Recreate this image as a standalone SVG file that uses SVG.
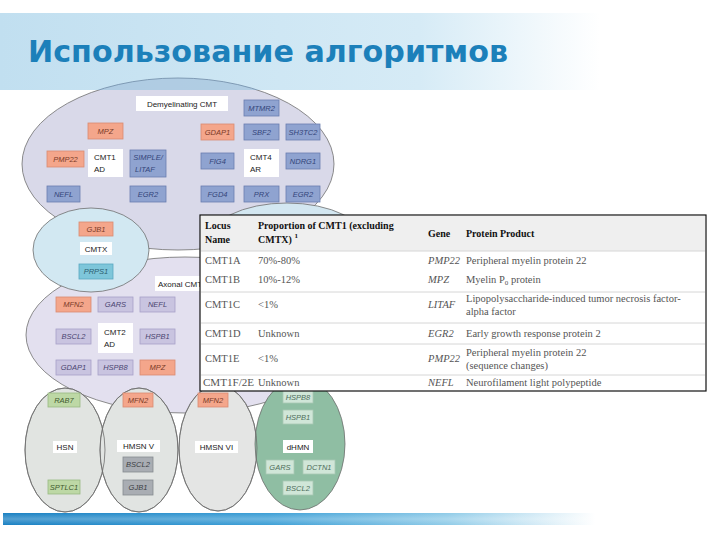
<svg xmlns="http://www.w3.org/2000/svg" width="720" height="540" viewBox="0 0 720 540">
<defs>
<linearGradient id="band" x1="0" y1="0" x2="600" y2="0" gradientUnits="userSpaceOnUse">
<stop offset="0" stop-color="#c1dff0"/>
<stop offset="0.7" stop-color="#d6ebf6"/>
<stop offset="1" stop-color="#ffffff"/>
</linearGradient>
<linearGradient id="bar" x1="0" y1="0" x2="595" y2="0" gradientUnits="userSpaceOnUse">
<stop offset="0" stop-color="#1a80c2"/>
<stop offset="0.45" stop-color="#3d9fd6"/>
<stop offset="0.75" stop-color="#8fcbe8"/>
<stop offset="1" stop-color="#ffffff"/>
</linearGradient>
<linearGradient id="barHi" x1="0" y1="0" x2="0" y2="1">
<stop offset="0" stop-color="#ffffff" stop-opacity="0"/>
<stop offset="0.5" stop-color="#ffffff" stop-opacity="0.25"/>
<stop offset="1" stop-color="#ffffff" stop-opacity="0"/>
</linearGradient>
<clipPath id="inBand"><rect x="0" y="0" width="720" height="90"/></clipPath>
<clipPath id="belowBand"><rect x="0" y="90" width="720" height="450"/></clipPath>
</defs>
<style>
.ell{stroke:#6f6f6f;stroke-width:0.8}
.b{stroke-width:0.8}
.blue{fill:#8fa3d0;stroke:#6a7db0}
.orange{fill:#f4a68b;stroke:#d98b70}
.white{fill:#ffffff;stroke:none}
.lav{fill:#c9c4e0;stroke:#a7a0c8}
.cyan{fill:#7ec6da;stroke:#5aa8c0}
.green{fill:#bdd8a5;stroke:#98b982}
.gray{fill:#a9adb3;stroke:#868a90}
.mint{fill:#d0e6d8;stroke:#a9c9b4}
.g{font-family:"Liberation Sans",Arial,sans-serif;font-size:7.5px;font-style:italic;text-anchor:middle}
.tb{fill:#34457a}
.to{fill:#7b3b28}
.tl{fill:#4a4570}
.tc{fill:#2d5e70}
.tg{fill:#3f5a2e}
.tgr{fill:#3c3f44}
.tm{fill:#4d6d5b}
.n{font-family:"Liberation Sans",Arial,sans-serif;font-size:8px;fill:#222}
.c{text-anchor:middle}
.th{font-family:"Liberation Serif","Times New Roman",serif;font-size:10px;font-weight:bold;fill:#111}
.td{font-family:"Liberation Serif","Times New Roman",serif;font-size:10.5px;fill:#555}
.ti{font-style:italic}
.sep{stroke:#d6d6d6;stroke-width:1}
</style>

<!-- header band -->
<rect x="0" y="13" width="720" height="77" fill="url(#band)"/>

<!-- big region ellipses -->
<g id="demyelinating-region">
<ellipse class="ell" cx="178" cy="164" rx="156" ry="86" fill="#d9d9e9" clip-path="url(#belowBand)"/>
<ellipse cx="178" cy="164" rx="156" ry="86" fill="#a7c4de" fill-opacity="0.75" stroke="#6f8aa6" stroke-width="0.8" clip-path="url(#inBand)"/>
</g>
<g id="axonal-region">
<ellipse class="ell" cx="185" cy="335" rx="159" ry="78" fill="#e3e0ef"/>
</g>
<g id="intermediate-region">
<ellipse class="ell" cx="287" cy="243" rx="80" ry="40" fill="#d3e7f1"/>
</g>
<g id="cmtx-region">
<ellipse class="ell" cx="91" cy="250" rx="58" ry="42" fill="#d2e8f2"/>
</g>

<text x="28" y="62" font-family="'DejaVu Sans',Verdana,sans-serif" font-size="31" font-weight="bold" fill="#1c80ba" textLength="480" lengthAdjust="spacingAndGlyphs">Использование алгоритмов</text>

<!-- Demyelinating nodes -->
<g id="n-demyel-label"><rect class="white" x="136" y="96" width="92" height="15"/><text class="n c" x="182" y="106.5">Demyelinating CMT</text></g>
<g id="n-mtmr2"><rect class="b blue" x="244" y="100" width="35" height="16"/><text class="g tb" x="261.5" y="110.5">MTMR2</text></g>
<g id="n-mpz1"><rect class="b orange" x="88" y="123" width="35" height="16"/><text class="g to" x="105.5" y="133.5">MPZ</text></g>
<g id="n-gdap1a"><rect class="b orange" x="201" y="124" width="33" height="16"/><text class="g to" x="217.5" y="134.5">GDAP1</text></g>
<g id="n-sbf2"><rect class="b blue" x="244" y="124" width="35" height="16"/><text class="g tb" x="261.5" y="134.5">SBF2</text></g>
<g id="n-sh3tc2"><rect class="b blue" x="286" y="124" width="34" height="16"/><text class="g tb" x="303" y="134.5">SH3TC2</text></g>
<g id="n-pmp22"><rect class="b orange" x="47" y="151" width="37" height="16"/><text class="g to" x="65.5" y="161.5">PMP22</text></g>
<g id="n-cmt1ad"><rect class="white" x="88" y="149" width="35" height="28"/><text class="n" x="94" y="160">CMT1</text><text class="n" x="94" y="172">AD</text></g>
<g id="n-simple"><rect class="b blue" x="130" y="150" width="36" height="27"/><text class="g tb" x="148" y="160">SIMPLE/</text><text class="g tb" x="145" y="172">LITAF</text></g>
<g id="n-fig4"><rect class="b blue" x="201" y="153" width="33" height="16"/><text class="g tb" x="217.5" y="163.5">FIG4</text></g>
<g id="n-cmt4ar"><rect class="white" x="244" y="149" width="35" height="28"/><text class="n" x="250" y="160">CMT4</text><text class="n" x="250" y="172">AR</text></g>
<g id="n-ndrg1"><rect class="b blue" x="286" y="153" width="34" height="16"/><text class="g tb" x="303" y="163.5">NDRG1</text></g>
<g id="n-nefl1"><rect class="b blue" x="47" y="186" width="33" height="16"/><text class="g tb" x="63.5" y="196.5">NEFL</text></g>
<g id="n-egr2a"><rect class="b blue" x="130" y="186" width="36" height="16"/><text class="g tb" x="148" y="196.5">EGR2</text></g>
<g id="n-fgd4"><rect class="b blue" x="201" y="186" width="33" height="16"/><text class="g tb" x="217.5" y="196.5">FGD4</text></g>
<g id="n-prx"><rect class="b blue" x="244" y="186" width="35" height="16"/><text class="g tb" x="261.5" y="196.5">PRX</text></g>
<g id="n-egr2b"><rect class="b blue" x="286" y="186" width="34" height="16"/><text class="g tb" x="303" y="196.5">EGR2</text></g>

<!-- CMTX nodes -->
<g id="n-gjb1a"><rect class="b orange" x="79" y="222" width="34" height="14"/><text class="g to" x="96" y="231.5">GJB1</text></g>
<g id="n-cmtx"><rect class="white" x="80" y="242" width="32" height="13"/><text class="n c" x="96" y="251.5">CMTX</text></g>
<g id="n-prps1"><rect class="b cyan" x="79" y="264" width="34" height="15"/><text class="g tc" x="96" y="274">PRPS1</text></g>

<!-- Axonal nodes -->
<g id="n-axonal-label"><rect class="white" x="155" y="276" width="50" height="15"/><text class="n" x="158" y="286.5" font-size="8.5">Axonal CMT</text></g>
<g id="n-mfn2a"><rect class="b orange" x="56" y="297" width="35" height="15"/><text class="g to" x="73.5" y="307">MFN2</text></g>
<g id="n-gars1"><rect class="b lav" x="98" y="297" width="35" height="15"/><text class="g tl" x="115.5" y="307">GARS</text></g>
<g id="n-nefl2"><rect class="b lav" x="140" y="297" width="35" height="15"/><text class="g tl" x="157.5" y="307">NEFL</text></g>
<g id="n-bscl2a"><rect class="b lav" x="56" y="329" width="35" height="15"/><text class="g tl" x="73.5" y="339">BSCL2</text></g>
<g id="n-cmt2ad"><rect class="white" x="98" y="323" width="35" height="30"/><text class="n" x="104" y="335">CMT2</text><text class="n" x="104" y="347">AD</text></g>
<g id="n-hspb1a"><rect class="b lav" x="140" y="329" width="35" height="15"/><text class="g tl" x="157.5" y="339">HSPB1</text></g>
<g id="n-gdap1b"><rect class="b lav" x="56" y="360" width="35" height="15"/><text class="g tl" x="73.5" y="370">GDAP1</text></g>
<g id="n-hspb8a"><rect class="b lav" x="98" y="360" width="35" height="15"/><text class="g tl" x="115.5" y="370">HSPB8</text></g>
<g id="n-mpz2"><rect class="b orange" x="140" y="360" width="35" height="15"/><text class="g to" x="157.5" y="370">MPZ</text></g>

<!-- bottom ellipses -->
<g id="hsn-region"><ellipse class="ell" cx="65" cy="450" rx="40" ry="62" fill="#e1e4e1"/></g>
<g id="hmsn5-region"><ellipse class="ell" cx="139" cy="450" rx="39" ry="62" fill="#e1e4e2"/></g>
<g id="hmsn6-region"><ellipse class="ell" cx="218" cy="448" rx="39" ry="63" fill="#e4e5e4"/></g>
<g id="dhmn-region"><ellipse class="ell" cx="300" cy="444" rx="45" ry="66" fill="#8fbea3"/></g>
<g id="outlines" fill="none">
<ellipse class="ell" cx="65" cy="450" rx="40" ry="62"/>
<ellipse class="ell" cx="139" cy="450" rx="39" ry="62"/>
<ellipse class="ell" cx="218" cy="448" rx="39" ry="63"/>
</g>

<g id="n-rab7"><rect class="b green" x="48" y="393" width="32" height="14"/><text class="g tg" x="64" y="402.5">RAB7</text></g>
<g id="n-hsn"><rect class="white" x="53" y="441" width="24" height="12"/><text class="n c" x="65" y="450">HSN</text></g>
<g id="n-sptlc1"><rect class="b green" x="48" y="480" width="32" height="14"/><text class="g tg" x="64" y="489.5">SPTLC1</text></g>
<g id="n-mfn2b"><rect class="b orange" x="123" y="393" width="30" height="14"/><text class="g to" x="138" y="402.5">MFN2</text></g>
<g id="n-hmsn5"><rect class="white" x="117" y="440" width="43" height="12"/><text class="n c" x="138.5" y="449">HMSN V</text></g>
<g id="n-bscl2b"><rect class="b gray" x="123" y="457" width="30" height="15"/><text class="g tgr" x="138" y="467">BSCL2</text></g>
<g id="n-gjb1b"><rect class="b gray" x="123" y="480" width="30" height="15"/><text class="g tgr" x="138" y="490">GJB1</text></g>
<g id="n-mfn2c"><rect class="b orange" x="198" y="393" width="30" height="14"/><text class="g to" x="213" y="402.5">MFN2</text></g>
<g id="n-hmsn6"><rect class="white" x="195" y="441" width="43" height="12"/><text class="n c" x="216.5" y="450">HMSN VI</text></g>
<g id="n-hspb8b"><rect class="b mint" x="283" y="389" width="30" height="14"/><text class="g tm" x="298" y="399.5">HSPB8</text></g>
<g id="n-hspb1b"><rect class="b mint" x="283" y="410" width="30" height="14"/><text class="g tm" x="298" y="419.5">HSPB1</text></g>
<g id="n-dhmn"><rect class="white" x="283" y="440" width="30" height="13"/><text class="n c" x="298" y="449.5">dHMN</text></g>
<g id="n-gars2"><rect class="b mint" x="266" y="460" width="28" height="14"/><text class="g tm" x="280" y="469.5">GARS</text></g>
<g id="n-dctn1"><rect class="b mint" x="303" y="460" width="32" height="14"/><text class="g tm" x="319" y="469.5">DCTN1</text></g>
<g id="n-bscl2c"><rect class="b mint" x="283" y="481" width="30" height="14"/><text class="g tm" x="298" y="490.5">BSCL2</text></g>

<g id="connectors"></g>

<!-- table -->
<g id="table">
<rect x="200" y="215" width="506" height="176" fill="#ffffff" stroke="#111" stroke-width="1.2"/>
<rect x="201" y="216" width="504" height="35" fill="#efefef"/>
<line class="sep" x1="201" y1="251" x2="705" y2="251"/>
<line class="sep" x1="201" y1="292" x2="705" y2="292"/>
<line class="sep" x1="201" y1="323" x2="705" y2="323"/>
<line class="sep" x1="201" y1="344" x2="705" y2="344"/>
<line class="sep" x1="201" y1="375" x2="705" y2="375"/>
<text class="th" x="205" y="229">Locus</text>
<text class="th" x="205" y="243">Name</text>
<text class="th" x="258" y="229">Proportion of CMT1 (excluding</text>
<text class="th" x="258" y="243">CMTX) <tspan font-size="7" dy="-5">1</tspan></text>
<text class="th" x="428" y="237">Gene</text>
<text class="th" x="466" y="237">Protein Product</text>

<text class="td" x="205" y="264">CMT1A</text><text class="td" x="258" y="264">70%-80%</text><text class="td ti" x="428" y="264">PMP22</text><text class="td" x="466" y="264">Peripheral myelin protein 22</text>
<text class="td" x="205" y="283">CMT1B</text><text class="td" x="258" y="283">10%-12%</text><text class="td ti" x="428" y="283">MPZ</text><text class="td" x="466" y="283">Myelin P<tspan font-size="7" dy="2">0</tspan><tspan dy="-2"> protein</tspan></text>
<text class="td" x="205" y="308">CMT1C</text><text class="td" x="258" y="308">&lt;1%</text><text class="td ti" x="428" y="308">LITAF</text><text class="td" x="466" y="302">Lipopolysaccharide-induced tumor necrosis factor-</text><text class="td" x="466" y="315">alpha factor</text>
<text class="td" x="205" y="337">CMT1D</text><text class="td" x="258" y="337">Unknown</text><text class="td ti" x="428" y="337">EGR2</text><text class="td" x="466" y="337">Early growth response protein 2</text>
<text class="td" x="205" y="362">CMT1E</text><text class="td" x="258" y="362">&lt;1%</text><text class="td ti" x="428" y="362">PMP22</text><text class="td" x="466" y="356">Peripheral myelin protein 22</text><text class="td" x="466" y="369">(sequence changes)</text>
<text class="td" x="203" y="386" textLength="51" lengthAdjust="spacingAndGlyphs">CMT1F/2E</text><text class="td" x="258" y="386">Unknown</text><text class="td ti" x="428" y="386">NEFL</text><text class="td" x="466" y="386">Neurofilament light polypeptide</text>
</g>

<!-- bottom bar -->
<rect x="3" y="513" width="595" height="12" fill="url(#bar)"/>
<rect x="3" y="513" width="595" height="12" fill="url(#barHi)"/>
</svg>
